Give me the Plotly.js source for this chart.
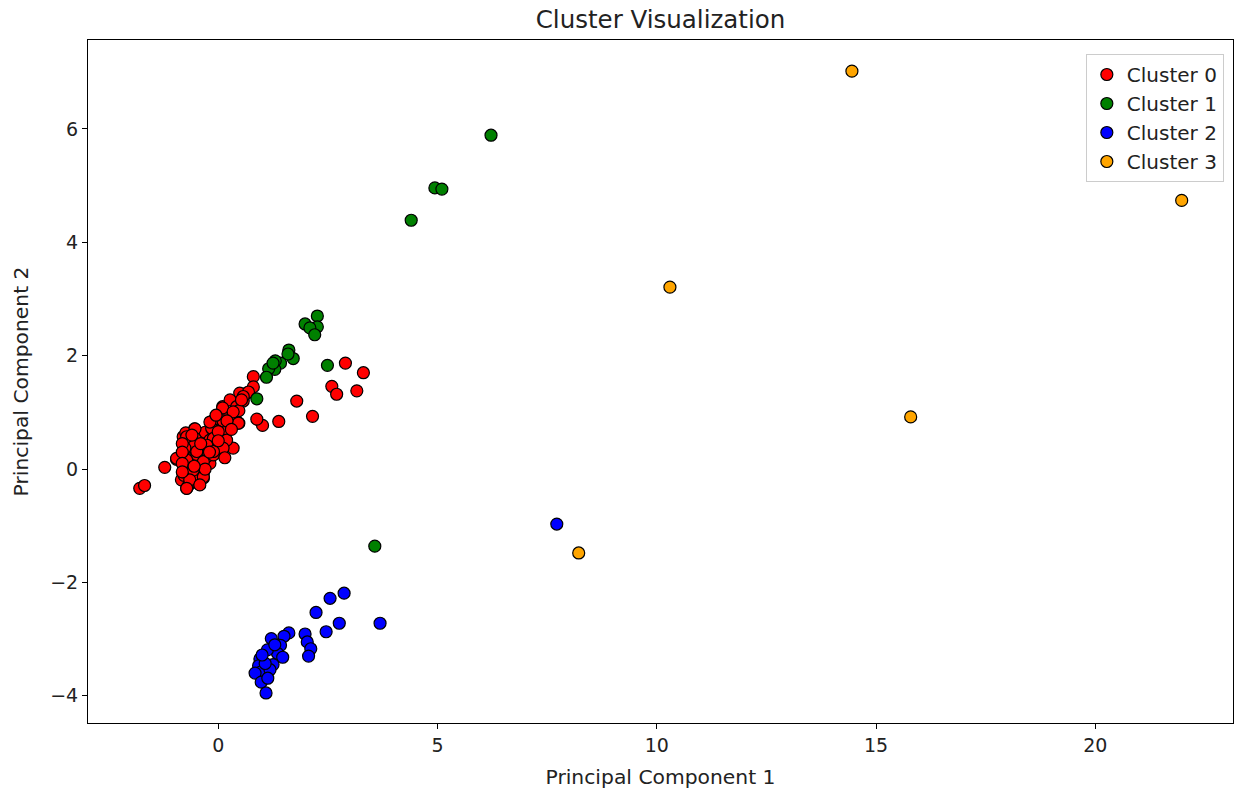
<!DOCTYPE html>
<html>
<head>
<meta charset="utf-8">
<script src="https://cdn.plot.ly/plotly-3.0.1.min.js"></script>
<style>html,body{margin:0;padding:0;background:#fff;}#chart{width:1236px;height:790px;}</style>
</head>
<body>
<div id="chart"></div>
<script>
// Cluster names and colours
const clusterNames = ["Cluster 0", "Cluster 1", "Cluster 2", "Cluster 3"];
const clusterColors = ["red", "green", "blue", "orange"];

// Cluster 0 (red)
const c0x = [-1.79,-1.68,-1.22,2.90,3.31,3.16,2.59,2.70,1.79,2.15,1.38,1.01,0.88,0.80,-0.72,-0.54,0.10,0.34,0.47,0.43,0.57,0.65,-0.34,-0.95,-0.75,-0.74,-0.84,-0.80,-0.11,0.04,0.18,-0.07,-0.25,-0.51,-0.34,0.11,0.31,0.49,0.80,0.69,0.27,-0.11,0.04,-0.19,-0.42,-0.72,-0.65,-0.45,-0.34,0.34,-0.04,0.19,0.42,0.57,-0.80,-0.65,-0.53,-0.42,-0.30,-0.19,-0.80,-0.60,-0.46,-0.74,-0.60,-0.78,-0.58,-0.26,-0.05,0.47,-0.13,-0.49,-0.78,-0.69,
  0.10,0.34,0.53,0.46,0.11,-0.15,-0.53,-0.11,0.19,0.11,-0.26,-0.72,-0.76,-0.49,-0.11,-0.34,-0.72,-0.95,-0.80,-0.57,-0.65,-0.34,-0.72,-0.42,-0.11,0.00,-0.19,
  -0.82,-0.82,-0.82,-0.82,-0.60,-0.40,-0.20,0.00,-0.30,-0.55,0.20,0.30,-0.05,0.15];
const c0y = [-0.34,-0.29,0.03,1.87,1.70,1.38,1.46,1.32,1.20,0.93,0.84,0.77,0.88,1.63,-0.34,0.71,1.10,0.37,0.81,1.02,1.20,1.34,-0.16,0.17,0.34,-0.02,-0.19,0.57,0.69,0.81,0.51,0.51,0.39,0.16,0.28,0.98,0.85,1.34,1.45,1.36,1.22,0.86,0.34,0.10,0.04,0.45,-0.08,-0.25,-0.08,0.98,0.39,0.69,1.10,1.28,0.25,0.30,0.42,0.55,0.65,0.51,0.07,0.19,0.30,0.64,0.45,0.39,-0.17,0.22,0.36,1.03,0.70,0.26,-0.11,-0.30,
  1.08,1.01,1.22,0.81,0.85,0.72,0.71,0.54,0.51,0.37,0.42,0.57,0.37,0.31,0.25,0.13,0.16,0.19,-0.05,-0.02,-0.19,-0.14,-0.34,-0.28,0.31,0.66,0.83,
  0.45,0.30,0.10,-0.05,0.60,0.45,0.30,0.50,0.00,0.05,0.85,0.70,0.95,0.20];

// Cluster 1 (green)
const c1x = [6.22,4.94,5.10,4.40,3.57,2.26,1.98,2.26,2.09,2.20,2.49,1.61,1.71,1.59,1.42,1.30,1.29,1.15,1.10,0.88,1.25];
const c1y = [5.89,4.96,4.94,4.39,-1.36,2.70,2.56,2.51,2.49,2.37,1.83,2.10,1.95,2.03,1.87,1.91,1.76,1.77,1.62,1.24,1.87];

// Cluster 2 (blue)
const c2x = [7.72,3.69,2.87,2.55,2.23,2.76,2.46,1.98,2.03,2.11,2.06,1.61,1.50,1.42,1.21,1.35,1.47,1.25,1.12,0.95,0.92,0.97,0.84,0.98,1.09,1.18,1.07,1.00,1.29,1.13];
const c2y = [-0.97,-2.72,-2.19,-2.28,-2.53,-2.72,-2.87,-2.91,-3.05,-3.17,-3.30,-2.89,-2.95,-3.11,-2.99,-3.25,-3.32,-3.45,-3.19,-3.35,-3.47,-3.58,-3.60,-3.76,-3.95,-3.54,-3.43,-3.28,-3.10,-3.69];

// Cluster 3 (orange)
const c3x = [14.45,21.97,10.30,15.79,8.22];
const c3y = [7.02,4.74,3.21,0.92,-1.48];

const xs = [c0x, c1x, c2x, c3x];
const ys = [c0y, c1y, c2y, c3y];

const traces = clusterNames.map((name, i) => ({
  type: "scatter",
  mode: "markers",
  name: name,
  legendgroup: name,
  x: xs[i],
  y: ys[i],
  marker: {color: clusterColors[i], size: 12, line: {color: "black", width: 1.2}},
  hoverinfo: "x+y+name"
}));

const font = "DejaVu Sans, sans-serif";
const axisCommon = {
  showgrid: false,
  zeroline: false,
  showline: true,
  linecolor: "black",
  linewidth: 1,
  mirror: true,
  ticks: "outside",
  ticklen: 5,
  tickwidth: 1,
  tickcolor: "black",
  automargin: false,
  tickfont: {family: font, size: 19, color: "#222"}
};

const layout = {
  width: 1236,
  height: 790,
  margin: {l: 88, r: 3, t: 40, b: 67},
  paper_bgcolor: "white",
  plot_bgcolor: "white",
  title: {text: "Cluster Visualization", font: {family: font, size: 24.5, color: "#222"}, xref: "paper", x: 0.5, xanchor: "center", yref: "container", y: 0.975, yanchor: "middle"},
  xaxis: Object.assign({}, axisCommon, {
    range: [-2.97, 23.14],
    tickvals: [0, 5, 10, 15, 20],
    title: {text: "Principal Component 1", font: {family: font, size: 20.3, color: "#222"}, standoff: 14}
  }),
  yaxis: Object.assign({}, axisCommon, {
    range: [-4.48, 7.57],
    tickvals: [-4, -2, 0, 2, 4, 6],
    title: {text: "Principal Component 2", font: {family: font, size: 20.3, color: "#222"}, standoff: 16}
  }),
  legend: {
    x: 0.992, y: 0.9795, xanchor: "right", yanchor: "top",
    bgcolor: "white", bordercolor: "#cccccc", borderwidth: 1,
    font: {family: font, size: 20, color: "#222"},
    tracegroupgap: 0,
    traceorder: "grouped",
    itemwidth: 30
  },
  showlegend: true
};

Plotly.newPlot("chart", traces, layout, {displayModeBar: false});
</script>
</body>
</html>
